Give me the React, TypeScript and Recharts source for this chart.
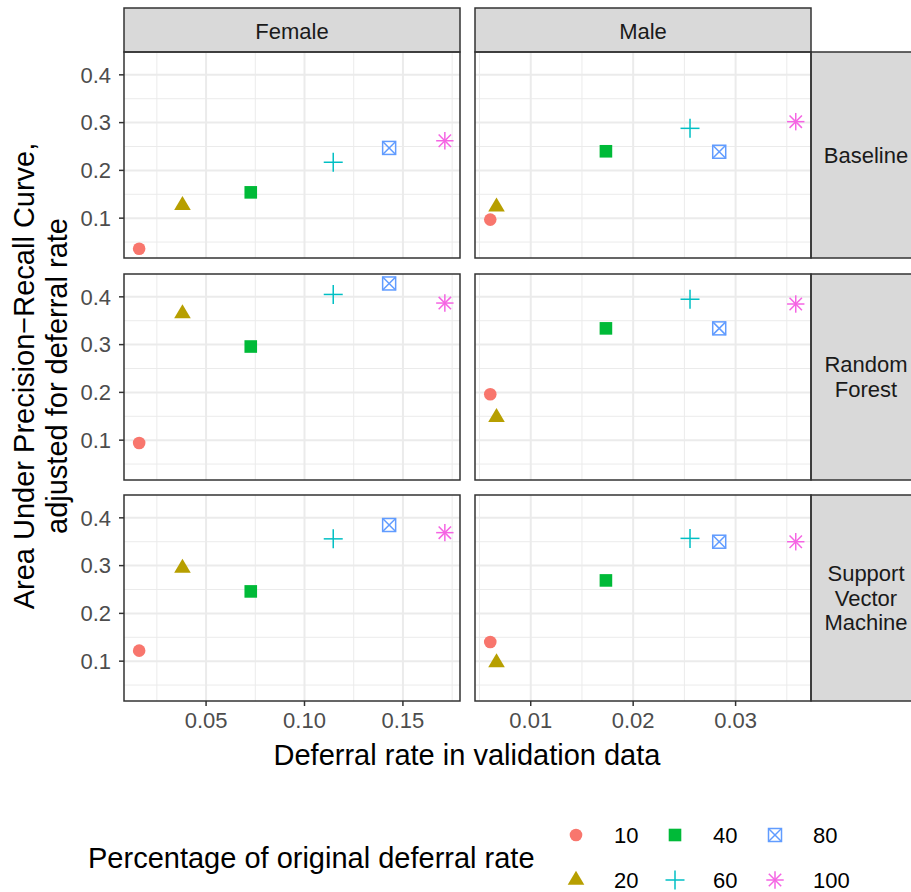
import { ScatterChart, Scatter, XAxis, YAxis, CartesianGrid } from "recharts";

// percentage of original deferral rate (legend levels)
const levels = ["10", "20", "40", "60", "80", "100"];
const colors = ["#F8766D", "#B79F00", "#00BA38", "#00BFC4", "#619CFF", "#F564E3"];

const sexes = ["Female", "Male"];
const models = [["Baseline"], ["Random", "Forest"], ["Support", "Vector", "Machine"]];

// deferral rate in validation data, per level
const femaleX = [0.016, 0.038, 0.0727, 0.1146, 0.143, 0.1713];
const maleX = [0.00605, 0.00666, 0.01734, 0.02555, 0.0284, 0.03587];

// AUPRC adjusted for deferral rate, per level
const femaleBaseline = [0.036, 0.127, 0.154, 0.217, 0.247, 0.262];
const maleBaseline = [0.097, 0.124, 0.24, 0.288, 0.239, 0.302];
const femaleRF = [0.094, 0.365, 0.296, 0.405, 0.428, 0.387];
const maleRF = [0.196, 0.148, 0.334, 0.395, 0.334, 0.385];
const femaleSVM = [0.122, 0.295, 0.246, 0.356, 0.385, 0.369];
const maleSVM = [0.14, 0.097, 0.269, 0.357, 0.35, 0.35];

const yTicks = [0.1, 0.2, 0.3, 0.4];
const yMinor = [0.05, 0.15, 0.25, 0.35];
const femaleTicks = [0.05, 0.1, 0.15];
const femaleMinor = [0.025, 0.075, 0.125, 0.175];
const maleTicks = [0.01, 0.02, 0.03];
const maleMinor = [0.005, 0.015, 0.025, 0.035];

const yDomain = [0.0166, 0.4478];
const femaleDomain = [0.0083, 0.179];
const maleDomain = [0.00456, 0.03736];

const panelY = [
  [femaleBaseline, maleBaseline],
  [femaleRF, maleRF],
  [femaleSVM, maleSVM],
];

const FONT = "'Liberation Sans', Arial, Helvetica, sans-serif";
const COL_LEFT = [124, 475];
const ROW_TOP = [52, 274, 495];
const PW = 336;
const PH = 206;
const YW = 50;
const XH = 40;

function Marker({ kind, cx, cy, color }: { kind: number; cx: number; cy: number; color: string }) {
  const sw = 1.5;
  if (kind === 0) return <circle cx={cx} cy={cy} r={6.3} fill={color} />;
  if (kind === 1)
    return (
      <polygon
        points={`${cx},${cy - 9.3} ${cx - 8.3},${cy + 4.7} ${cx + 8.3},${cy + 4.7}`}
        fill={color}
      />
    );
  if (kind === 2) return <rect x={cx - 6.3} y={cy - 6.3} width={12.6} height={12.6} fill={color} />;
  if (kind === 3)
    return (
      <g stroke={color} strokeWidth={sw}>
        <line x1={cx - 9.5} y1={cy} x2={cx + 9.5} y2={cy} />
        <line x1={cx} y1={cy - 9.5} x2={cx} y2={cy + 9.5} />
      </g>
    );
  if (kind === 4)
    return (
      <g stroke={color} strokeWidth={sw} fill="none">
        <rect x={cx - 6.5} y={cy - 6.5} width={13} height={13} />
        <line x1={cx - 6.5} y1={cy - 6.5} x2={cx + 6.5} y2={cy + 6.5} />
        <line x1={cx - 6.5} y1={cy + 6.5} x2={cx + 6.5} y2={cy - 6.5} />
      </g>
    );
  const d = 6.2;
  return (
    <g stroke={color} strokeWidth={sw}>
      <line x1={cx - 8.7} y1={cy} x2={cx + 8.7} y2={cy} />
      <line x1={cx} y1={cy - 8.7} x2={cx} y2={cy + 8.7} />
      <line x1={cx - d} y1={cy - d} x2={cx + d} y2={cy + d} />
      <line x1={cx - d} y1={cy + d} x2={cx + d} y2={cy - d} />
    </g>
  );
}

const tickStyle = { fontSize: 22, fill: "#4D4D4D", fontFamily: FONT };

function Panel({ row, col }: { row: number; col: number }) {
  const showY = col === 0;
  const showX = row === 2;
  const xs = col === 0 ? femaleX : maleX;
  const ys = panelY[row][col];
  const width = PW + (showY ? YW : 0);
  const height = PH + (showX ? XH : 0);
  return (
    <div style={{ position: "absolute", left: COL_LEFT[col] - (showY ? YW : 0), top: ROW_TOP[row] }}>
      <ScatterChart width={width} height={height} margin={{ top: 0, right: 0, bottom: 0, left: 0 }}>
        <CartesianGrid
          verticalValues={col === 0 ? femaleMinor : maleMinor}
          horizontalValues={yMinor}
          stroke="#EBEBEB"
          strokeWidth={1}
        />
        <CartesianGrid
          verticalValues={col === 0 ? femaleTicks : maleTicks}
          horizontalValues={yTicks}
          stroke="#EBEBEB"
          strokeWidth={2}
        />
        <XAxis
          type="number"
          dataKey="x"
          domain={col === 0 ? femaleDomain : maleDomain}
          allowDataOverflow
          ticks={col === 0 ? femaleTicks : maleTicks}
          interval={0}
          tickFormatter={(v: number) => v.toFixed(2)}
          hide={!showX}
          height={XH}
          axisLine={false}
          tickLine={{ stroke: "#333333", strokeWidth: 1.5 }}
          tickSize={5}
          tickMargin={6}
          tick={tickStyle}
        />
        <YAxis
          type="number"
          dataKey="y"
          domain={yDomain}
          allowDataOverflow
          ticks={yTicks}
          interval={0}
          tickFormatter={(v: number) => v.toFixed(1)}
          hide={!showY}
          width={YW}
          axisLine={false}
          tickLine={{ stroke: "#333333", strokeWidth: 1.5 }}
          tickSize={5}
          tickMargin={8}
          tick={tickStyle}
        />
        {levels.map((lv, i) => (
          <Scatter
            key={lv}
            name={lv}
            data={[{ x: xs[i], y: ys[i] }]}
            isAnimationActive={false}
            shape={(p: any) => <Marker kind={i} cx={p.cx} cy={p.cy} color={colors[i]} />}
          />
        ))}
      </ScatterChart>
    </div>
  );
}

const legendSymX = [576, 675, 775];
const legendLabX = [614, 713, 813];
const legendRowY = [835, 880];

export default function App() {
  return (
    <div
      style={{
        position: "absolute",
        left: 0,
        top: 0,
        width: 911,
        height: 892,
        overflow: "hidden",
        background: "#FFFFFF",
        fontFamily: FONT,
      }}
    >
      {ROW_TOP.map((_, r) => COL_LEFT.map((__, c) => <Panel key={`${r}-${c}`} row={r} col={c} />))}
      <svg
        width={911}
        height={892}
        style={{ position: "absolute", left: 0, top: 0, pointerEvents: "none" }}
        fontFamily={FONT}
      >
        {/* column strips */}
        {sexes.map((s, c) => (
          <g key={s}>
            <rect x={COL_LEFT[c]} y={8} width={PW} height={44} fill="#D9D9D9" stroke="#333333" strokeWidth={1.5} />
            <text x={COL_LEFT[c] + PW / 2} y={31} fontSize={22} fill="#1A1A1A" textAnchor="middle" dominantBaseline="central">
              {s}
            </text>
          </g>
        ))}
        {/* row strips */}
        {models.map((lines, r) => (
          <g key={r}>
            <rect x={COL_LEFT[1] + PW} y={ROW_TOP[r]} width={120} height={PH} fill="#D9D9D9" stroke="#333333" strokeWidth={1.5} />
            {lines.map((t, k) => (
              <text
                key={t}
                x={866}
                y={ROW_TOP[r] + PH / 2 + (k - (lines.length - 1) / 2) * 24.5}
                fontSize={22}
                fill="#1A1A1A"
                textAnchor="middle"
                dominantBaseline="central"
              >
                {t}
              </text>
            ))}
          </g>
        ))}
        {/* panel borders */}
        {ROW_TOP.map((t, r) =>
          COL_LEFT.map((l, c) => (
            <rect key={`b${r}${c}`} x={l} y={t} width={PW} height={PH} fill="none" stroke="#333333" strokeWidth={1.5} />
          ))
        )}
        {/* axis titles */}
        <text x={467} y={755} fontSize={29} fill="#000" textAnchor="middle" dominantBaseline="central">
          Deferral rate in validation data
        </text>
        <g transform="translate(0, 376) rotate(-90)">
          <text x={0} y={24} fontSize={29} fill="#000" textAnchor="middle" dominantBaseline="central">
            Area Under Precision−Recall Curve,
          </text>
          <text x={0} y={57} fontSize={29} fill="#000" textAnchor="middle" dominantBaseline="central">
            adjusted for deferral rate
          </text>
        </g>
        {/* legend */}
        <text x={88} y={858} fontSize={29} fill="#000" dominantBaseline="central">
          Percentage of original deferral rate
        </text>
        {levels.map((lv, i) => {
          const col = Math.floor(i / 2);
          const row = i % 2;
          return (
            <g key={lv}>
              <Marker kind={i} cx={legendSymX[col]} cy={legendRowY[row]} color={colors[i]} />
              <text x={legendLabX[col]} y={legendRowY[row]} fontSize={22} fill="#000" dominantBaseline="central">
                {lv}
              </text>
            </g>
          );
        })}
      </svg>
    </div>
  );
}
